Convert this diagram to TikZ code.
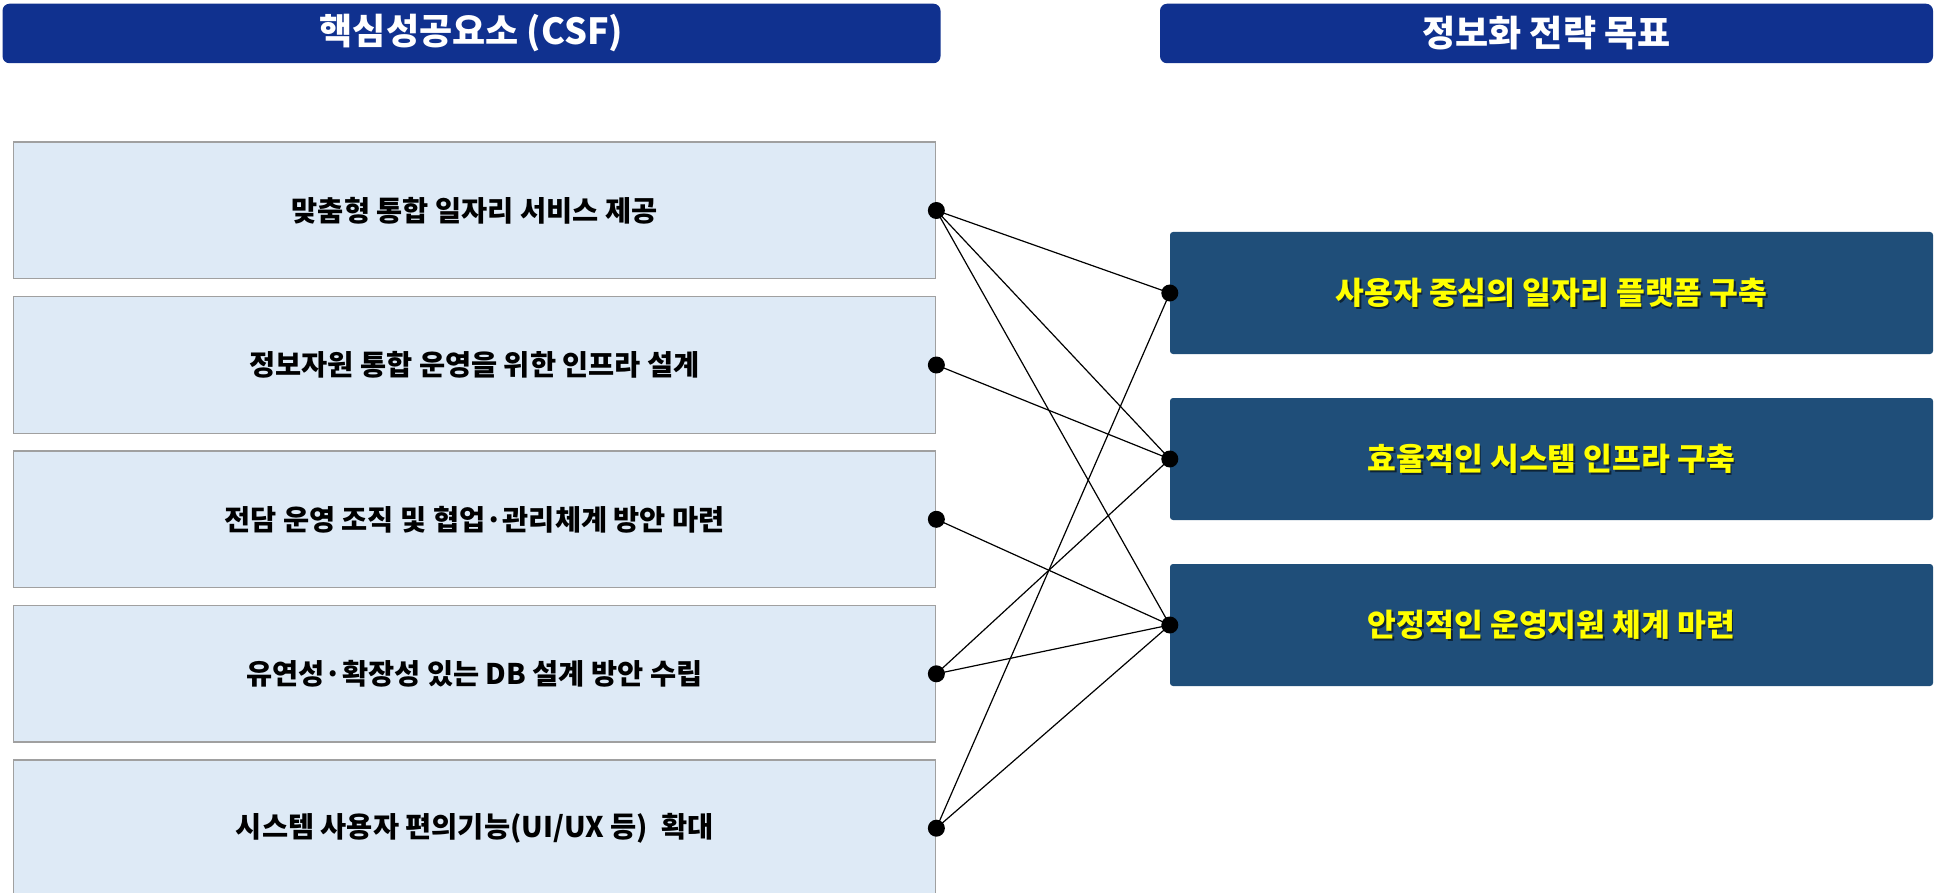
\documentclass[tikz,border=0pt]{standalone}
\usepackage{fontspec}
\setmainfont{Noto Sans CJK KR}
\definecolor{hdrblue}{HTML}{10318F}
\definecolor{goalblue}{HTML}{1F4E79}
\definecolor{csffill}{HTML}{DEEAF6}
\definecolor{csfline}{HTML}{A0A0A0}
\definecolor{goaltext}{HTML}{FFFF00}
\tikzset{
  hdr/.style={fill=hdrblue, rounded corners=7pt, minimum height=59.5pt, inner sep=0pt,
    text=white, font=\fontsize{36}{42}\selectfont\bfseries},
  csfbox/.style={fill=csffill, draw=csfline, line width=1.5pt, minimum width=922pt,
    minimum height=136.5pt, inner sep=0pt, text=black, font=\fontsize{28.4}{34}\selectfont\bfseries},
  goalbox/.style={fill=goalblue, rounded corners=3pt, minimum width=763pt,
    minimum height=122pt, inner sep=0pt},
  goallabel/.style={text=goaltext, font=\fontsize{31.3}{36}\selectfont\bfseries, inner sep=0pt},
  goalshadow/.style={text=black, opacity=0.55, font=\fontsize{31.3}{36}\selectfont\bfseries, inner sep=0pt},
  dot/.style={circle, fill=black, minimum size=17pt, inner sep=0pt},
  link/.style={draw=black, line width=1.2pt}
}
\begin{document}
\begin{tikzpicture}[x=1pt,y=-1pt]
\useasboundingbox (0,0) rectangle (1943,893);
% headers
\node[hdr, minimum width=938pt] (h1) at (471.5,33.5) {핵심성공요소 (CSF)};
\node[hdr, minimum width=773pt] (h2) at (1546.5,33.5) {정보화 전략 목표};
% CSF boxes
\node[csfbox] (l1) at (474.6,210.5) {맞춤형 통합 일자리 서비스 제공};
\node[csfbox] (l2) at (474.6,365.0) {정보자원 통합 운영을 위한 인프라 설계};
\node[csfbox] (l3) at (474.6,519.3) {전담 운영 조직 및 협업·관리체계 방안 마련};
\node[csfbox] (l4) at (474.6,673.8) {유연성·확장성 있는 DB 설계 방안 수립};
\node[csfbox] (l5) at (474.6,828.2) {시스템 사용자 편의기능(UI/UX 등)\ \ 확대};
% goal boxes
\node[goalbox] (r1) at (1551.5,293) {};
\node[goalbox] (r2) at (1551.5,459) {};
\node[goalbox] (r3) at (1551.5,625) {};
\node[goalshadow] (s1) at ([xshift=1.5pt,yshift=-1.5pt]r1.center) {사용자 중심의 일자리 플랫폼 구축};
\node[goallabel] (t1) at (r1.center) {사용자 중심의 일자리 플랫폼 구축};
\node[goalshadow] (s2) at ([xshift=1.5pt,yshift=-1.5pt]r2.center) {효율적인 시스템 인프라 구축};
\node[goallabel] (t2) at (r2.center) {효율적인 시스템 인프라 구축};
\node[goalshadow] (s3) at ([xshift=1.5pt,yshift=-1.5pt]r3.center) {안정적인 운영지원 체계 마련};
\node[goallabel] (t3) at (r3.center) {안정적인 운영지원 체계 마련};
% connectors
\draw[link] (l1.east) -- (r1.west);
\draw[link] (l1.east) -- (r2.west);
\draw[link] (l1.east) -- (r3.west);
\draw[link] (l2.east) -- (r2.west);
\draw[link] (l3.east) -- (r3.west);
\draw[link] (l4.east) -- (r2.west);
\draw[link] (l4.east) -- (r3.west);
\draw[link] (l5.east) -- (r1.west);
\draw[link] (l5.east) -- (r3.west);
% dots
\foreach \n in {l1,l2,l3,l4,l5} \node[dot] (d\n) at (\n.east) {};
\foreach \n in {r1,r2,r3} \node[dot] (d\n) at (\n.west) {};
\end{tikzpicture}
\end{document}
